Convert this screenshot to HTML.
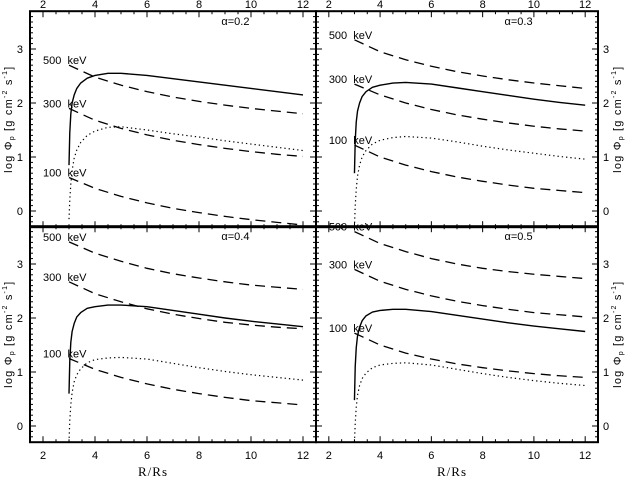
<!DOCTYPE html>
<html><head><meta charset="utf-8"><style>
html,body{margin:0;padding:0;background:#fff;}
svg{display:block;font-family:"Liberation Sans",sans-serif;}
</style></head><body>
<svg id="chart" width="625" height="482" viewBox="0 0 625 482" xmlns="http://www.w3.org/2000/svg"></svg>
<script>
const panelNames = ["alpha-0.2", "alpha-0.3", "alpha-0.4", "alpha-0.5"];
const alphaLabels = ["\u03b1=0.2", "\u03b1=0.3", "\u03b1=0.4", "\u03b1=0.5"];
const energyLabels = ["500", "300", "100"];
const xTicks = [2, 4, 6, 8, 10, 12];
const yTicks = [0, 1, 2, 3];
const dashX = [3, 4, 5, 6, 7, 8, 9, 10, 11, 12];
const curveX = [3, 3.03, 3.07, 3.12, 3.2, 3.3, 3.45, 3.7, 4, 4.5, 5, 6, 7, 8, 9, 10, 11, 12];
const dash500 = [
  [2.7, 2.48, 2.33, 2.21, 2.11, 2.03, 1.96, 1.9, 1.85, 1.8],
  [3.17, 2.95, 2.8, 2.68, 2.58, 2.5, 2.43, 2.37, 2.32, 2.27],
  [3.41, 3.2, 3.05, 2.92, 2.82, 2.74, 2.67, 2.61, 2.57, 2.53],
  [3.6, 3.38, 3.23, 3.1, 3.0, 2.92, 2.86, 2.81, 2.77, 2.73]];
const dash300 = [
  [1.9, 1.68, 1.53, 1.41, 1.31, 1.23, 1.16, 1.1, 1.05, 1.01],
  [2.35, 2.15, 2.0, 1.88, 1.78, 1.7, 1.63, 1.57, 1.52, 1.48],
  [2.67, 2.45, 2.3, 2.17, 2.07, 1.99, 1.92, 1.87, 1.83, 1.8],
  [2.9, 2.68, 2.53, 2.41, 2.31, 2.23, 2.16, 2.1, 2.06, 2.02]];
const dash100 = [
  [0.62, 0.42, 0.27, 0.15, 0.05, -0.03, -0.1, -0.16, -0.21, -0.26],
  [1.22, 1.0, 0.85, 0.73, 0.63, 0.55, 0.48, 0.42, 0.38, 0.34],
  [1.25, 1.05, 0.9, 0.78, 0.68, 0.6, 0.53, 0.47, 0.43, 0.39],
  [1.72, 1.5, 1.35, 1.24, 1.15, 1.08, 1.02, 0.97, 0.93, 0.9]];
const solidY = [
  [0.85, 1.45, 1.8, 2.0, 2.15, 2.27, 2.37, 2.46, 2.51, 2.55, 2.55, 2.51, 2.45, 2.39, 2.33, 2.27, 2.21, 2.15],
  [0.7, 1.3, 1.65, 1.85, 2.0, 2.12, 2.21, 2.29, 2.33, 2.37, 2.38, 2.35, 2.28, 2.21, 2.14, 2.07, 2.01, 1.96],
  [0.6, 1.2, 1.55, 1.75, 1.9, 2.02, 2.1, 2.18, 2.21, 2.24, 2.24, 2.21, 2.14, 2.07, 2.0, 1.94, 1.89, 1.84],
  [0.48, 1.1, 1.45, 1.67, 1.83, 1.95, 2.04, 2.11, 2.14, 2.16, 2.16, 2.12, 2.05, 1.98, 1.91, 1.85, 1.8, 1.75]];
const dottedY = [
  [-0.15, 0.2, 0.5, 0.75, 0.98, 1.13, 1.27, 1.4, 1.48, 1.55, 1.56, 1.5, 1.43, 1.37, 1.3, 1.24, 1.18, 1.12],
  [-0.3, 0.1, 0.4, 0.65, 0.85, 1.0, 1.12, 1.24, 1.31, 1.36, 1.38, 1.35, 1.28, 1.2, 1.13, 1.07, 1.01, 0.96],
  [-0.3, 0.1, 0.4, 0.62, 0.82, 0.95, 1.06, 1.17, 1.23, 1.26, 1.27, 1.24, 1.16, 1.08, 1.01, 0.95, 0.9, 0.85],
  [-0.3, 0.05, 0.35, 0.57, 0.75, 0.88, 0.98, 1.08, 1.13, 1.16, 1.17, 1.13, 1.05, 0.97, 0.9, 0.84, 0.79, 0.75]];

const NS = "http://www.w3.org/2000/svg";
const svg = document.getElementById("chart");
function mk(tag, attrs, parent) {
  const e = document.createElementNS(NS, tag);
  for (const k in attrs) e.setAttribute(k, attrs[k]);
  (parent || svg).appendChild(e);
  return e;
}
const boxes = [
  {x0: 30, x1: 316, top: 11.2, bot: 227.2, left: true, isTop: true},
  {x0: 316, x1: 598, top: 11.2, bot: 227.2, left: false, isTop: true},
  {x0: 30, x1: 316, top: 226.2, bot: 442.2, left: true, isTop: false},
  {x0: 316, x1: 598, top: 226.2, bot: 442.2, left: false, isTop: false}];
const XMIN = 1.5, XMAX = 12.5, YMIN = -0.3, YMAX = 3.7;

boxes.forEach((b, i) => {
  const sx = v => b.x0 + (v - XMIN) / (XMAX - XMIN) * (b.x1 - b.x0);
  const sy = v => b.bot - (v - YMIN) / (YMAX - YMIN) * (b.bot - b.top);
  const g = mk("g", {});
  
  
  const tg = mk("g", {stroke: "#000", "stroke-width": 1}, g);
  
  
  for (let v = 2; v <= 12.001; v += 0.5) {
    const major = xTicks.includes(Math.round(v * 10) / 10);
    const L = major ? 6 : 3;
    mk("line", {x1: sx(v), x2: sx(v), y1: b.bot, y2: b.bot - L}, tg);
    mk("line", {x1: sx(v), x2: sx(v), y1: b.top, y2: b.top + L}, tg);
  }
  for (let v = -0.2; v <= 3.65; v += 0.1) {
    const r = Math.round(v * 10) / 10;
    const major = yTicks.includes(r);
    const L = major ? 6 : 3;
    mk("line", {x1: b.x0, x2: b.x0 + L, y1: sy(r), y2: sy(r)}, tg);
    mk("line", {x1: b.x1, x2: b.x1 - L, y1: sy(r), y2: sy(r)}, tg);
  }
  xTicks.forEach(t => {
    const tx = mk("text", {x: sx(t), y: b.isTop ? 8 : 459, "font-size": 11, "text-anchor": "middle"}, g);
    
    
    tx.textContent = t;
  });
  yTicks.forEach(t => {
    const tx = mk("text", {x: b.left ? 23 : 603, y: sy(t) + 4, "font-size": 11, "text-anchor": b.left ? "end" : "start"}, g);
    
    
    tx.textContent = t;
  });
  const yc = (b.top + b.bot) / 2, xc = b.left ? 9 : 618;
  const yt = mk("text", {x: xc, y: yc, "font-size": 11, "letter-spacing": 1.2, "text-anchor": "middle", transform: `rotate(-90 ${xc} ${yc})`, "dominant-baseline": "middle"}, g);
  
  
  yt.innerHTML = 'log \u03a6<tspan font-size="7" dy="3">p</tspan><tspan dy="-3"> [g cm</tspan><tspan font-size="7" dy="-4">-2</tspan><tspan dy="4"> s</tspan><tspan font-size="7" dy="-4">-1</tspan><tspan dy="4">]</tspan>';
  const pts = (xs, ys) => xs.map((x, k) => sx(x) + "," + sy(Math.max(ys[k], YMIN))).join(" ");
  [[dash500, "500"], [dash300, "300"], [dash100, "100"]].forEach(([arr, lab]) => {
    const p = mk("polyline", {points: pts(dashX, arr[i]), fill: "none", stroke: "#000", "stroke-width": 1.3, "stroke-dasharray": "10 6"}, g);
    
    
    const t = mk("text", {x: sx(2.0), y: sy(arr[i][0]) - 1, "font-size": 11}, g);
    
    
    t.textContent = lab + "  keV";
    t.style.whiteSpace = "pre";
  });
  const s = mk("polyline", {points: pts(curveX, solidY[i]), fill: "none", stroke: "#000", "stroke-width": 1.4, "stroke-linejoin": "round"}, g);
  
  
  const d = mk("polyline", {points: pts(curveX, dottedY[i]), fill: "none", stroke: "#000", "stroke-width": 1.2, "stroke-dasharray": "1.3 3"}, g);
  
  
  const a = mk("text", {x: sx(9.4), y: b.top + 14, "font-size": 11, "text-anchor": "middle"}, g);
  
  
  a.textContent = alphaLabels[i];
  const fr = mk("rect", {x: b.x0, y: b.top, width: b.x1 - b.x0, height: b.bot - b.top, fill: "none", stroke: "#000", "stroke-width": 2}, g);
  
  
});
[153, 452].forEach(x => {
  const t = mk("text", {x: x, y: 476, "font-size": 13, "letter-spacing": 1, "text-anchor": "middle", "font-family": "Liberation Serif, serif"});
  
  
  t.textContent = "R/Rs";
});
</script>
</body></html>
